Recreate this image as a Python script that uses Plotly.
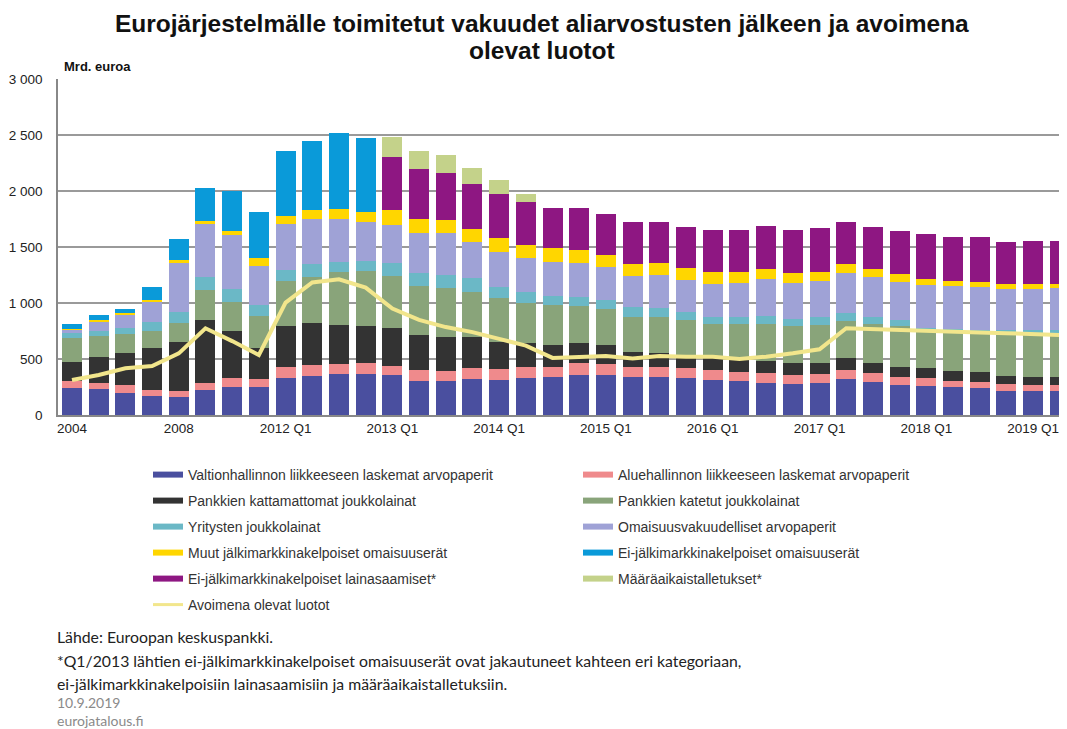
import plotly.graph_objects as go

periods = ["2004", "2005", "2006", "2007", "2008", "2009", "2010", "2011",
           "2012 Q1", "2012 Q2", "2012 Q3", "2012 Q4",
           "2013 Q1", "2013 Q2", "2013 Q3", "2013 Q4",
           "2014 Q1", "2014 Q2", "2014 Q3", "2014 Q4",
           "2015 Q1", "2015 Q2", "2015 Q3", "2015 Q4",
           "2016 Q1", "2016 Q2", "2016 Q3", "2016 Q4",
           "2017 Q1", "2017 Q2", "2017 Q3", "2017 Q4",
           "2018 Q1", "2018 Q2", "2018 Q3", "2018 Q4",
           "2019 Q1", "2019 Q2"]

tick_labels = ["2004", "2008", "2012 Q1", "2013 Q1", "2014 Q1", "2015 Q1",
               "2016 Q1", "2017 Q1", "2018 Q1", "2019 Q1"]

valtion = [244, 229, 193, 170, 158, 223, 253, 247, 327, 348, 363, 363, 357, 305, 305, 318,
           312, 327, 336, 357, 357, 336, 336, 327, 312, 307, 289, 277, 289, 318, 298, 268,
           259, 247, 238, 217, 217, 217]
aluehallinto = [60, 60, 72, 53, 59, 66, 74, 71, 99, 98, 89, 98, 80, 95, 90, 99,
                96, 99, 96, 104, 98, 90, 90, 90, 90, 80, 89, 80, 77, 84, 74, 74,
                68, 60, 54, 57, 51, 51]
kattamattomat = [166, 226, 286, 372, 432, 559, 426, 283, 369, 378, 351, 334, 343, 315, 300, 282,
                 247, 220, 193, 179, 170, 139, 125, 98, 104, 104, 107, 110, 95, 104, 95, 89,
                 90, 89, 89, 77, 68, 74]
katetut = [214, 190, 172, 158, 169, 268, 259, 283, 401, 411, 477, 494, 464, 440, 440, 402,
           393, 357, 357, 333, 318, 313, 321, 333, 306, 321, 327, 328, 342, 336, 345, 363,
           327, 333, 342, 363, 378, 372]
yritysten = [45, 48, 51, 80, 102, 119, 110, 98, 99, 110, 89, 86, 110, 115, 115, 119,
             98, 98, 80, 83, 84, 83, 80, 75, 60, 60, 72, 60, 69, 72, 66, 54,
             35, 36, 36, 45, 45, 42]
omaisuusvak = [36, 77, 119, 179, 440, 470, 485, 351, 407, 402, 378, 351, 339, 355, 375, 322,
               312, 298, 307, 298, 291, 283, 298, 282, 298, 309, 327, 321, 324, 357, 351, 339,
               382, 390, 387, 366, 366, 375]
muut = [6, 18, 21, 15, 24, 24, 36, 66, 75, 83, 95, 86, 137, 125, 120, 122,
        119, 119, 119, 119, 110, 104, 110, 110, 110, 98, 90, 89, 84, 77, 72, 69,
        53, 41, 44, 45, 45, 39]
ei_jalk_omaisuus = [41, 42, 35, 119, 184, 295, 357, 416, 583, 619, 673, 658] + [None] * 26
ei_jalk_laina = [None] * 12 + [470, 445, 420, 398, 396, 387, 357, 372, 364, 372, 360, 366,
                               372, 372, 386, 387, 387, 378, 380, 387, 399, 396, 402, 375,
                               386, 386]
maaraaikais = [None] * 12 + [185, 165, 155, 140, 125, 68] + [None] * 20
avoimena = [312, 357, 417, 437, 550, 774, 660, 536, 1003, 1184, 1211, 1137, 950, 849, 785, 740,
            680, 620, 510, 521, 526, 505, 526, 521, 520, 500, 521, 551, 587, 775, 766, 760,
            754, 745, 736, 730, 721, 715]

series = [
    ("Valtionhallinnon liikkeeseen laskemat arvopaperit", valtion, "#4a4f9f", "legend"),
    ("Aluehallinnon liikkeeseen laskemat arvopaperit", aluehallinto, "#ef8a8c", "legend2"),
    ("Pankkien kattamattomat joukkolainat", kattamattomat, "#333333", "legend"),
    ("Pankkien katetut joukkolainat", katetut, "#89a47a", "legend2"),
    ("Yritysten joukkolainat", yritysten, "#6bb8c6", "legend"),
    ("Omaisuusvakuudelliset arvopaperit", omaisuusvak, "#9fa2d6", "legend2"),
    ("Muut jälkimarkkinakelpoiset omaisuuserät", muut, "#ffd600", "legend"),
    ("Ei-jälkimarkkinakelpoiset omaisuuserät", ei_jalk_omaisuus, "#0a9ad9", "legend2"),
    ("Ei-jälkimarkkinakelpoiset lainasaamiset*", ei_jalk_laina, "#8e1782", "legend"),
    ("Määräaikaistalletukset*", maaraaikais, "#c4d28a", "legend2"),
]

fig = go.Figure()
for name, vals, color, lg in series:
    fig.add_trace(go.Bar(x=periods, y=vals, name=name, marker=dict(color=color, line=dict(width=0)),
                         showlegend=False))

line_color = "#f2e68c"
fig.add_trace(go.Scatter(x=periods, y=avoimena, mode="lines", name="Avoimena olevat luotot",
                         line=dict(color=line_color, width=4), showlegend=False))

# legend entries (legend-only traces, drawn as thick short lines)
legend_entries = [s for s in series if s[3] == "legend"] + [s for s in series if s[3] == "legend2"]
for name, vals, color, lg in legend_entries:
    fig.add_trace(go.Scatter(x=[None], y=[None], mode="lines", name=name, legend=lg,
                             legendgroup=name, line=dict(color=color, width=6)))
fig.add_trace(go.Scatter(x=[None], y=[None], mode="lines", name="Avoimena olevat luotot",
                         legend="legend", legendgroup="avoimena",
                         line=dict(color=line_color, width=3)))

# page offset (browser body margin) compensation
OFF = 8
W, H = 1067 - OFF, 729 - OFF
L = 58 - OFF
T = 79 - OFF
R = 0
B = H - (415 - OFF)
ph = H - T - B
pw = W - L - R


def py(ypage):
    return (H - B - (ypage - OFF)) / ph


def px(xpage):
    return (xpage - OFF - L) / pw


legend_font = dict(family="Liberation Sans, Arial", size=14, color="#333333")

fig.update_layout(
    width=W, height=H,
    margin=dict(l=L, r=R, t=T, b=B),
    paper_bgcolor="white", plot_bgcolor="white",
    barmode="stack", bargap=0.25,
    font=dict(family="Liberation Sans, Arial", size=13, color="#222222"),
    xaxis=dict(type="category", range=[-0.524, 37.27], tickmode="array", tickvals=tick_labels,
               ticktext=tick_labels, showgrid=False, showline=True, linecolor="#888888", linewidth=1.5,
               ticks="", tickfont=dict(size=13.5, color="#222222"), fixedrange=True),
    yaxis=dict(range=[0, 3000], tickvals=[0, 500, 1000, 1500, 2000, 2500, 3000],
               ticktext=["0", "500", "1 000", "1 500", "2 000", "2 500", "3 000"],
               showgrid=True, gridcolor="#9a9a9a", gridwidth=1.5, showline=True, linecolor="#888888",
               linewidth=1.5, zeroline=False, ticks="", ticklabelstandoff=11,
               tickfont=dict(size=13.5, color="#222222")),
    legend=dict(x=px(148), xanchor="left", y=py(459), yanchor="top",
                orientation="v", font=legend_font, tracegroupgap=4.8, bgcolor="rgba(0,0,0,0)",
                itemwidth=30),
    legend2=dict(x=px(578), xanchor="left", y=py(459), yanchor="top",
                 orientation="v", font=legend_font, tracegroupgap=4.8, bgcolor="rgba(0,0,0,0)",
                 itemwidth=30),
)

title_lines = ["Eurojärjestelmälle toimitetut vakuudet aliarvostusten jälkeen ja avoimena",
               "olevat luotot"]
for txt, ypage in zip(title_lines, [24, 50]):
    fig.add_annotation(text="<b>" + txt + "</b>", xref="paper", yref="paper", x=px(542), y=py(ypage),
                       xanchor="center", yanchor="middle", showarrow=False,
                       font=dict(family="Liberation Sans, Arial", size=24.5, color="#111111"))

fig.add_annotation(text="<b>Mrd. euroa</b>", xref="paper", yref="paper", x=px(62), y=py(67),
                   xanchor="left", yanchor="middle", showarrow=False,
                   font=dict(family="Liberation Sans, Arial", size=13, color="#111111"))

foot_font = "Lato, Open Sans, Liberation Sans"
footnotes = [
    ("Lähde: Euroopan keskuspankki.", 636, "#222222", 15.8),
    ("*Q1/2013 lähtien ei-jälkimarkkinakelpoiset omaisuuserät ovat jakautuneet kahteen eri kategoriaan,", 660, "#222222", 15.8),
    ("ei-jälkimarkkinakelpoisiin lainasaamisiin ja määräaikaistalletuksiin.", 683, "#222222", 15.8),
    ("10.9.2019", 702, "#8a8a8a", 14),
    ("eurojatalous.fi", 720, "#8a8a8a", 14),
]
for txt, ypage, col, fs in footnotes:
    fig.add_annotation(text=txt, xref="paper", yref="paper", x=px(55), y=py(ypage),
                       xanchor="left", yanchor="middle", showarrow=False,
                       font=dict(family=foot_font, size=fs, color=col))

fig.write_html("out.html")
